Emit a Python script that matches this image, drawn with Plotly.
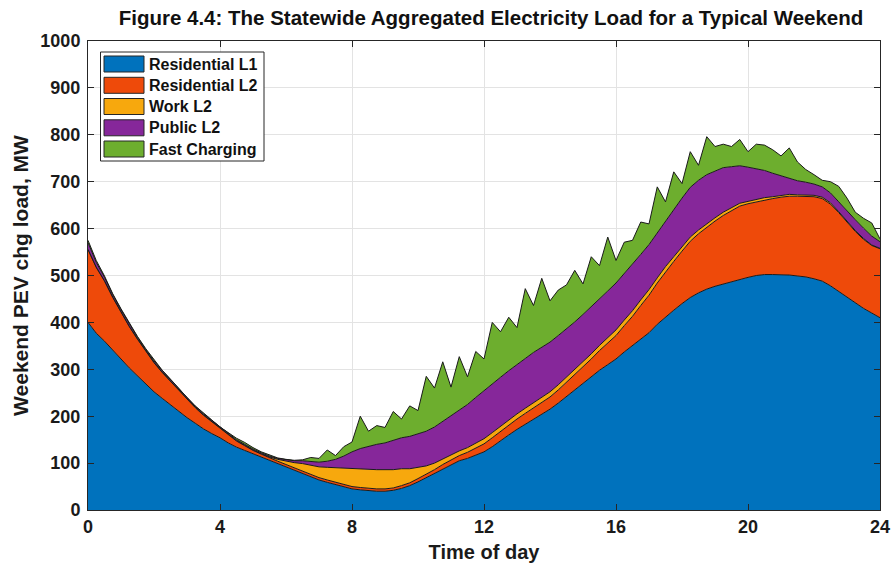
import numpy as np
import plotly.graph_objects as go

# Time of day (hours), 15-minute steps
hours = np.round(np.arange(0, 24.001, 0.25), 2)

residential_l1 = [400, 377, 360, 340, 322, 303, 286, 268, 252, 238, 224, 210,
                  197, 185, 173, 163, 154, 143, 134, 127, 120, 113, 106, 99,
                  92, 85, 78, 71, 64, 59, 54, 49, 45, 43, 41, 40,
                  40, 42, 46, 52, 60, 69, 78, 88, 97, 105, 110, 117,
                  124, 135, 148, 160, 172, 183, 194, 204, 215, 228, 242, 256,
                  270, 284, 298, 310, 322, 337, 350, 364, 378, 396, 412, 426,
                  440, 453, 463, 471, 477, 482, 487, 492, 496, 500, 502, 502,
                  502, 501, 499, 497, 493, 488, 478, 466, 454, 442, 430, 420,
                  410]
residential_l2 = [155, 140, 128, 113, 100, 88, 78, 70, 62, 55, 50, 44,
                  38, 33, 29, 25, 19, 16, 13, 10, 7, 6, 5, 5,
                  5, 5, 5, 5, 5, 5, 5, 5, 5, 5, 5, 5,
                  5, 5, 6, 6, 7, 7, 8, 9, 10, 11, 13, 15,
                  17, 19, 20, 21, 22, 23, 24, 25, 26, 28, 30, 32,
                  35, 38, 42, 46, 50, 56, 63, 72, 80, 88, 96, 104,
                  112, 120, 126, 132, 139, 146, 151, 156, 157, 157, 159, 162,
                  165, 168, 170, 172, 175, 176, 174, 168, 159, 152, 147, 144,
                  147]
work_l2 = [1, 1, 1, 1, 1, 1, 1, 1, 1, 1, 1, 1,
           1, 1, 1, 1, 1, 1, 1, 1, 1, 1, 2, 4,
           7, 11, 16, 20, 23, 27, 31, 35, 38, 39, 40, 41,
           41, 39, 36, 30, 24, 18, 14, 12, 10, 10, 10, 10,
           11, 11, 11, 11, 11, 11, 11, 11, 11, 11, 11, 11,
           11, 11, 11, 11, 12, 12, 12, 12, 12, 11, 11, 10,
           9, 9, 8, 8, 7, 7, 6, 6, 5, 5, 5, 4,
           4, 4, 3, 3, 3, 3, 3, 2, 2, 2, 2, 1,
           1]
public_l2 = [14, 10, 7, 5, 4, 4, 3, 3, 3, 3, 3, 3,
             3, 2, 2, 2, 2, 2, 2, 2, 2, 2, 2, 2,
             3, 4, 6, 8, 10, 13, 18, 26, 36, 44, 50, 54,
             57, 62, 66, 69, 71, 74, 77, 80, 83, 87, 92, 98,
             103, 104, 104, 105, 106, 106, 107, 107, 106, 105, 103, 102,
             101, 100, 100, 100, 100, 99, 98, 97, 96, 96, 98, 100,
             104, 106, 106, 104, 100, 95, 88, 80, 73, 66, 58, 50,
             42, 35, 30, 27, 24, 22, 21, 21, 22, 23, 22, 19,
             14]
fast_charging = [5, 4, 3, 2, 2, 2, 2, 2, 2, 1, 1, 1,
                 1, 1, 1, 1, 1, 2, 3, 4, 3, 2, 2, 1,
                 1, 1, 2, 8, 8, 24, 8, 20, 21, 69, 32, 40,
                 33, 62, 40, 65, 50, 117, 83, 127, 62, 114, 59, 98,
                 67, 131, 97, 114, 78, 149, 100, 147, 88, 97, 94, 110,
                 65, 107, 70, 115, 48, 67, 52, 69, 44, 98, 40, 81,
                 31, 76, 32, 81, 52, 50, 43, 56, 33, 52, 54, 50,
                 42, 64, 40, 27, 20, 14, 24, 33, 28, 16, 21, 28,
                 6]

series_names = ["Residential L1", "Residential L2", "Work L2", "Public L2", "Fast Charging"]
series_values = [residential_l1, residential_l2, work_l2, public_l2, fast_charging]
series_colors = ["#0072BD", "#EE4A0A", "#F7A80D", "#86279A", "#6DAE2E"]

x_ticks = [0, 4, 8, 12, 16, 20, 24]
y_ticks = list(range(0, 1001, 100))

FONT = "Liberation Sans, Arial, sans-serif"
W, H = 891, 566
ML, MR, MT, MB = 88, 11, 41, 56
PW, PH = W - ML - MR, H - MT - MB

def dx(px):  # window pixel -> paper x
    return (px - ML) / PW

def dy(py):  # window pixel -> paper y
    return (H - MB - py) / PH

fig = go.Figure()
for name, vals, col in zip(series_names, series_values, series_colors):
    fig.add_trace(go.Scatter(
        x=hours, y=vals, name=name, mode="lines",
        stackgroup="load", fillcolor=col,
        line=dict(color="#1a1a1a", width=1),
        showlegend=False,
    ))

# Legend drawn as a boxed key in the top-left of the axes
shapes = [dict(type="rect", xref="paper", yref="paper",
               x0=dx(100.5), x1=dx(264), y0=dy(52), y1=dy(161),
               line=dict(color="#262626", width=1), fillcolor="white", layer="above")]
annotations = []
row_centers = [64, 85.3, 106.5, 127.8, 149]
for name, col, cy in zip(series_names, series_colors, row_centers):
    shapes.append(dict(type="rect", xref="paper", yref="paper",
                       x0=dx(104), x1=dx(144), y0=dy(cy + 8), y1=dy(cy - 8),
                       line=dict(color="#262626", width=1), fillcolor=col, layer="above"))
    annotations.append(dict(xref="paper", yref="paper", x=dx(147), y=dy(cy),
                            xanchor="left", yanchor="middle", showarrow=False,
                            text="<b>%s</b>" % name,
                            font=dict(family=FONT, size=16, color="#111")))

axis_common = dict(
    showline=True, linecolor="#262626", linewidth=1, mirror="allticks",
    ticks="inside", ticklen=6, tickcolor="#262626",
    showgrid=True, gridcolor="#e3e3e3", gridwidth=1, zeroline=False,
    automargin=False,
    tickfont=dict(family=FONT, size=18, color="#1a1a1a", weight="bold"),
)

fig.update_layout(
    width=W, height=H,
    paper_bgcolor="white", plot_bgcolor="white",
    margin=dict(l=ML, r=MR, t=MT, b=MB),
    title=dict(
        text="<b>Figure 4.4: The Statewide Aggregated Electricity Load for a Typical Weekend</b>",
        x=dx(491), xref="paper", xanchor="center", y=1 - 18 / H, yanchor="middle",
        font=dict(family=FONT, size=20.5, color="#111"),
    ),
    xaxis=dict(range=[0, 24], tickvals=x_ticks, **axis_common,
               title=dict(text="<b>Time of day</b>", standoff=9,
                          font=dict(family=FONT, size=20, color="#1a1a1a"))),
    yaxis=dict(range=[0, 1000], tickvals=y_ticks, ticklabelstandoff=3, **axis_common,
               title=dict(text="<b>Weekend PEV chg load, MW</b>", standoff=6,
                          font=dict(family=FONT, size=21, color="#1a1a1a"))),
    shapes=shapes,
    annotations=annotations,
    showlegend=False,
)

fig.write_html(
    "out.html",
    config={"displayModeBar": False},
    post_script="document.body.style.margin='0';document.body.style.overflow='hidden';",
)
